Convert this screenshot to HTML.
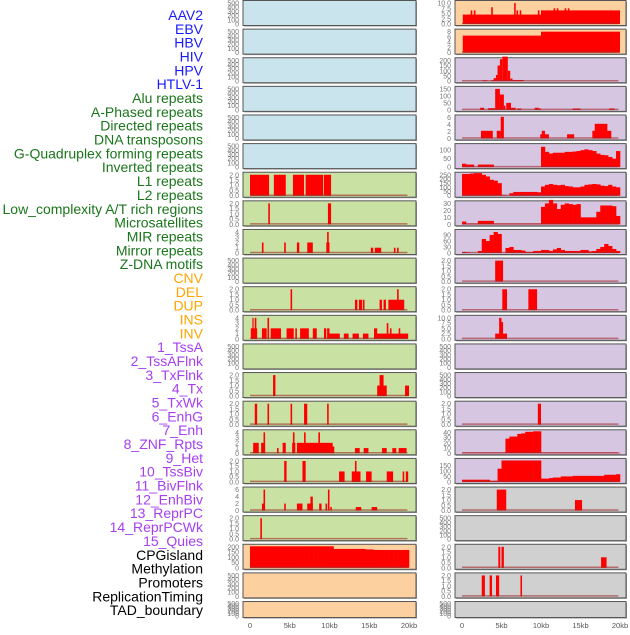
<!DOCTYPE html>
<html><head><meta charset="utf-8"><style>
body{margin:0;background:#fff;width:630px;height:630px;overflow:hidden;font-family:"Liberation Sans",sans-serif}
svg text{font-family:"Liberation Sans",sans-serif}
</style></head><body>
<svg id="chart" width="630" height="630" xmlns="http://www.w3.org/2000/svg"></svg>
<script>
// ---- labels ----
const labelNames = ["AAV2","EBV","HBV","HIV","HPV","HTLV-1","Alu repeats","A-Phased repeats","Directed repeats","DNA transposons","G-Quadruplex forming repeats","Inverted repeats","L1 repeats","L2 repeats","Low_complexity A/T rich regions","Microsatellites","MIR repeats","Mirror repeats","Z-DNA motifs","CNV","DEL","DUP","INS","INV","1_TssA","2_TssAFlnk","3_TxFlnk","4_Tx","5_TxWk","6_EnhG","7_Enh","8_ZNF_Rpts","9_Het","10_TssBiv","11_BivFlnk","12_EnhBiv","13_ReprPC","14_ReprPCWk","15_Quies","CPGisland","Methylation","Promoters","ReplicationTiming","TAD_boundary"];
const labelGroups = ["v","v","v","v","v","v","r","r","r","r","r","r","r","r","r","r","r","r","r","s","s","s","s","s","c","c","c","c","c","c","c","c","c","c","c","c","c","c","c","o","o","o","o","o"];
const xTickValues = [0,5,10,15,20];
const xTickLabels = ["0","5kb","10kb","15kb","20kb"];
// ---- panel data: segments [startKb,endKb,value] ----
const segAlu = [[0,2.4,2],[3,4.5,2],[5.4,6.8,2],[7,9.2,2],[9.3,10.2,2]];
const segAPhased = [[2.3,2.5,2],[9.8,10.2,2]];
const segDirected = [[1.5,1.7,2],[4.3,4.5,2],[5.9,6.2,2],[7.2,7.9,2],[9.6,10,2],[9.7,9.9,4],[15.2,15.5,1],[15.7,16.5,1],[18.1,18.3,1],[18.5,18.7,1]];
const segGQuad = [[5.1,5.3,2],[13.2,13.5,1],[13.7,14.1,1],[14.2,14.4,1],[16.3,16.6,1],[16.8,17.1,1],[17.4,19.4,1],[18.5,18.7,2]];
const segInverted = [[0.1,0.9,2],[0.3,0.4,4],[0.6,0.8,4],[1.5,2.1,2],[2.2,2.4,4],[2.6,3.9,2],[4.6,5.5,2],[5.7,5.9,2],[6.3,7.4,2],[7.9,8.4,2],[9.3,9.6,2],[9.7,10,2],[10,11.3,1],[11.8,12.4,1],[12.9,13.7,1],[14.2,14.9,1],[15.6,19.9,1],[15.6,16,2],[17.2,17.4,3],[17.6,17.8,2],[18.7,18.9,2]];
const segL2 = [[2.9,3.2,2],[16,17.2,1],[16.3,16.8,2],[19.5,20,1]];
const segLowComplex = [[0.6,0.9,2],[2.2,2.4,2],[5.1,5.3,2],[6.8,7.2,2],[9.7,9.9,2]];
const segMicrosat = [[0.4,1.1,2],[1.4,1.9,2],[1.7,1.9,4],[3.4,3.6,1],[4.1,4.5,2],[5.3,5.7,2],[5.4,5.6,4],[5.9,10.4,2],[6.8,7,4],[8.6,8.8,4],[10.3,10.6,1.3],[13.2,13.8,1],[14.3,14.9,1],[16.6,17.2,1],[17.9,18.4,1],[18.7,19.7,1]];
const segMIR = [[4.3,4.6,2],[6.6,7,2],[11.2,11.9,1],[12.8,13.9,1],[13.2,13.4,2],[14.6,15.3,1],[17.2,18,1],[19.2,19.4,1],[19.6,19.9,1]];
const segMirror = [[1.5,1.8,2],[1.7,1.9,6],[4.3,4.5,2],[5.9,6.6,2],[7.2,7.9,2],[7.6,7.9,4],[8.7,9,2],[9.5,9.7,2],[9.8,10,6],[10.1,10.3,1],[13.3,14,1],[15.3,16,1]];
const segZDNA = [[1.3,1.5,2]];
const binsCNV = [205,205,205,205,205,205,205,205,205,205,205,205,205,205,205,205,205,205,205,205,205,180,180,180,180,180,180,180,180,175,175,170,170,170,170,170,170,170,170,170];
const segINS = [[0.1,10,4.5],[10,20,6.5],[1.1,1.3,6.5],[1.5,1.7,6.5],[3.7,3.9,8],[6.6,6.8,10],[6.9,7.1,6.5],[7.3,7.5,6.5],[9.6,9.8,6.5],[11.6,11.8,7.5],[12,12.2,7.5],[13,13.2,7.5],[13.4,13.6,7.5]];
const segINV = [[0.1,10,6.5],[10,20,8]];
const segTssA = [[2.6,3.2,8],[3.7,4,10],[4,4.3,30],[4.3,4.5,60],[4.5,4.8,150],[4.8,5.1,210],[5.1,5.8,235],[5.8,6.1,100],[6.1,6.4,25],[6.4,7.8,12]];
const segTssAFlnk = [[2.3,2.8,15],[3.3,4.2,12],[4.2,4.8,150],[4.8,5.3,110],[5.3,5.5,30],[5.6,6.2,50],[6.2,6.8,15],[7,7.5,10],[9.2,9.7,15],[9.7,10,10],[14,15,10],[18.6,19.3,10]];
const segTxFlnk = [[2.4,3.9,2.2],[4.4,4.9,2.2],[4.9,5.3,6.2],[9.9,11,1.2],[10.1,10.5,2.2],[13.3,14.2,1.2],[16.5,18.9,2.2],[16.8,18.4,4.2]];
const binsTx = [20,15,15,0,15,15,15,15,0,0,0,0,0,0,0,0,0,0,0,0,120,90,80,85,85,85,90,90,92,95,100,105,100,95,80,72,70,60,50,95];
const binsTxWk = [260,260,265,270,270,250,230,190,180,150,5,0,30,45,45,45,45,45,45,40,110,130,140,130,125,130,115,110,100,100,110,130,135,140,135,120,115,130,110,100];
const binsEnhG = [4,1,1,1,5,5,5,5,1,1,1,1,1,1,1,1,1,1,1,1,25,30,35,30,22,28,30,29,28,29,10,10,10,10,18,27,27,27,26,12];
const binsEnh = [5,3,0,0,10,70,60,90,105,95,0,25,30,15,15,12,5,5,10,10,15,15,10,18,25,15,10,10,10,10,15,15,8,10,20,30,45,35,20,10];
const segZNF = [[4.2,5.2,2]];
const segHet = [[5.1,5.7,2],[8.4,9.5,2]];
const segTssBiv = [[4.2,5.7,2.5],[4.7,5,10],[5,5.2,8]];
const segReprPC = [[9.6,10,2]];
const binsReprPCWk = [1,1,1,1,1,1,1,1,1,1,1,28,32,32,37,38,41,41,42,42,1,1,1,1,1,1,1,1,1,1,1,1,1,1,1,1,1,1,1,1];
const binsQuies = [20,20,20,20,20,20,20,10,10,120,195,195,195,195,195,195,195,195,195,195,30,30,35,40,40,50,50,50,55,55,55,55,55,55,55,55,65,65,65,70];
const segCPG = [[4.4,5.6,2],[14.3,15.2,1]];
const segPromoters = [[4.6,4.85,2],[5,5.3,2],[17.6,18.3,1]];
const segRepTiming = [[2.5,2.9,2],[3.5,3.8,2],[4.3,4.7,2],[7.4,7.6,2]];
// tick sets
const tEmpty = [0,100,200,300,400,500];
const t2 = [0,0.5,1,1.5,2];
const t4 = [0,1,2,3,4];

const B="#c9e4ec",G="#c9e2a4",O="#fdd0a0",P="#d6c6e2",Y="#d0d0d0";
const panels = [
 {c:0,r:0,n:"aav2",bg:B,t:tEmpty},{c:0,r:1,n:"ebv",bg:B,t:tEmpty},{c:0,r:2,n:"hbv",bg:B,t:tEmpty},
 {c:0,r:3,n:"hiv",bg:B,t:tEmpty},{c:0,r:4,n:"hpv",bg:B,t:tEmpty},{c:0,r:5,n:"htlv-1",bg:B,t:tEmpty},
 {c:0,r:6,n:"alu-repeats",bg:G,t:t2,s:segAlu},{c:0,r:7,n:"a-phased-repeats",bg:G,t:t2,s:segAPhased},
 {c:0,r:8,n:"directed-repeats",bg:G,t:t4,s:segDirected},{c:0,r:9,n:"dna-transposons",bg:G,t:tEmpty},
 {c:0,r:10,n:"g-quadruplex",bg:G,t:t2,s:segGQuad},{c:0,r:11,n:"inverted-repeats",bg:G,t:t4,s:segInverted},
 {c:0,r:12,n:"l1-repeats",bg:G,t:tEmpty},{c:0,r:13,n:"l2-repeats",bg:G,t:t2,s:segL2},
 {c:0,r:14,n:"low-complexity",bg:G,t:t2,s:segLowComplex},{c:0,r:15,n:"microsatellites",bg:G,t:t4,s:segMicrosat},
 {c:0,r:16,n:"mir-repeats",bg:G,t:t2,s:segMIR},{c:0,r:17,n:"mirror-repeats",bg:G,t:[0,2,4,6],s:segMirror},
 {c:0,r:18,n:"z-dna-motifs",bg:G,t:t2,s:segZDNA},{c:0,r:19,n:"cnv",bg:O,t:[0,50,100,150,200],b:binsCNV},
 {c:0,r:20,n:"del",bg:O,t:tEmpty},{c:0,r:21,n:"dup",bg:O,t:tEmpty},
 {c:1,r:0,n:"ins",bg:O,t:[0,2.5,5,7.5,10],s:segINS},{c:1,r:1,n:"inv",bg:O,t:[0,2,4,6,8],s:segINV},
 {c:1,r:2,n:"1-tssa",bg:P,t:[0,50,100,150,200],s:segTssA},{c:1,r:3,n:"2-tssaflnk",bg:P,t:[0,50,100,150],s:segTssAFlnk},
 {c:1,r:4,n:"3-txflnk",bg:P,t:[0,2,4,6],s:segTxFlnk},{c:1,r:5,n:"4-tx",bg:P,t:[0,50,100],b:binsTx,m:130},
 {c:1,r:6,n:"5-txwk",bg:P,t:[0,50,100,150,200,250],b:binsTxWk},{c:1,r:7,n:"6-enhg",bg:P,t:[0,10,20,30],b:binsEnhG},
 {c:1,r:8,n:"7-enh",bg:P,t:[0,30,60,90],b:binsEnh,m:110},{c:1,r:9,n:"8-znf-rpts",bg:P,t:t2,s:segZNF},
 {c:1,r:10,n:"9-het",bg:P,t:t2,s:segHet},{c:1,r:11,n:"10-tssbiv",bg:P,t:[0,2.5,5,7.5,10],s:segTssBiv},
 {c:1,r:12,n:"11-bivflnk",bg:P,t:tEmpty},{c:1,r:13,n:"12-enhbiv",bg:P,t:tEmpty},
 {c:1,r:14,n:"13-reprpc",bg:P,t:t2,s:segReprPC},{c:1,r:15,n:"14-reprpcwk",bg:P,t:[0,10,20,30,40],b:binsReprPCWk},
 {c:1,r:16,n:"15-quies",bg:P,t:[0,50,100,150],b:binsQuies,m:200},{c:1,r:17,n:"cpgisland",bg:Y,t:t2,s:segCPG},
 {c:1,r:18,n:"methylation",bg:Y,t:tEmpty},{c:1,r:19,n:"promoters",bg:Y,t:t2,s:segPromoters},
 {c:1,r:20,n:"replicationtiming",bg:Y,t:t2,s:segRepTiming},{c:1,r:21,n:"tad-boundary",bg:Y,t:tEmpty}
];

const NS="http://www.w3.org/2000/svg";
const svg=document.getElementById("chart");
function mk(tag,attrs,parent){const e=document.createElementNS(NS,tag);for(const k in attrs)e.setAttribute(k,attrs[k]);(parent||svg).appendChild(e);return e;}
const colX=[{left:243,right:416,x0:250,x20:409},{left:455,right:626,x0:462,x20:620}];
const PITCH=28.62;
function xScale(c,kb){const C=colX[c];return C.x0+(C.x20-C.x0)*kb/20;}

// labels
const labelColors={v:"#1a1aff",r:"#1a761a",s:"#ffa500",c:"#a53ff0",o:"#000"};
labelNames.forEach((name,i)=>{
  const t=mk("text",{x:203,y:20+i*13.84,"text-anchor":"end","font-size":"14",fill:labelColors[labelGroups[i]]});
  
  
  t.textContent=name;
});

panels.forEach(p=>{
  const C=colX[p.c];
  const top=0.5+p.r*PITCH, h=(p.r===21?16:25);
  const g=mk("g",{});
  
  
  mk("rect",{x:C.left+1,y:top+1,width:C.right-C.left,height:h,fill:"#999"},g);
  mk("rect",{x:C.left,y:top,width:C.right-C.left,height:h,fill:p.bg,stroke:"#555","stroke-width":1},g);
  const tmax=p.m||p.t[p.t.length-1]*1.05;
  const yb=top+h-1.5, yt=top+1.5;
  const yS=v=>yb-(yb-yt)*v/tmax;
  // ticks
  p.t.forEach(v=>{
    const tt=mk("text",{x:C.left-4,y:yS(v)+2.5,"text-anchor":"end","font-size":"7",fill:"#777"},g);
    
    
    tt.textContent=(p.t===t2||p.t.includes(2.5))?v.toFixed(1):String(v);
  });
  const has=p.s||p.b;
  if(p.s){p.s.forEach(sg=>{
    const x1=xScale(p.c,sg[0]),x2=xScale(p.c,sg[1]);
    const r=mk("rect",{x:x1,y:yS(sg[2]),width:Math.max(1.2,x2-x1),height:yb-yS(sg[2]),fill:"#ff0000"},g);
    
    
  });}
  if(p.b){p.b.forEach((v,i)=>{
    const x1=xScale(p.c,i*0.5),x2=xScale(p.c,(i+1)*0.5);
    const r=mk("rect",{x:x1,y:yS(v),width:x2-x1+0.3,height:yb-yS(v),fill:"#ff0000"},g);
    
    
  });}
  if(has){
    const bl=mk("line",{x1:xScale(p.c,0),x2:xScale(p.c,19.8),y1:yb-0.5,y2:yb-0.5,stroke:"rgba(160,40,40,0.6)","stroke-width":1.5},g);
    
    
  }
});

// x-axis
[0,1].forEach(c=>{
  xTickValues.forEach((v,i)=>{
    const t=mk("text",{x:xScale(c,v),y:628,"text-anchor":"middle","font-size":"7.5",fill:"#555"});
    
    
    t.textContent=xTickLabels[i];
  });
});
</script>
</body></html>
